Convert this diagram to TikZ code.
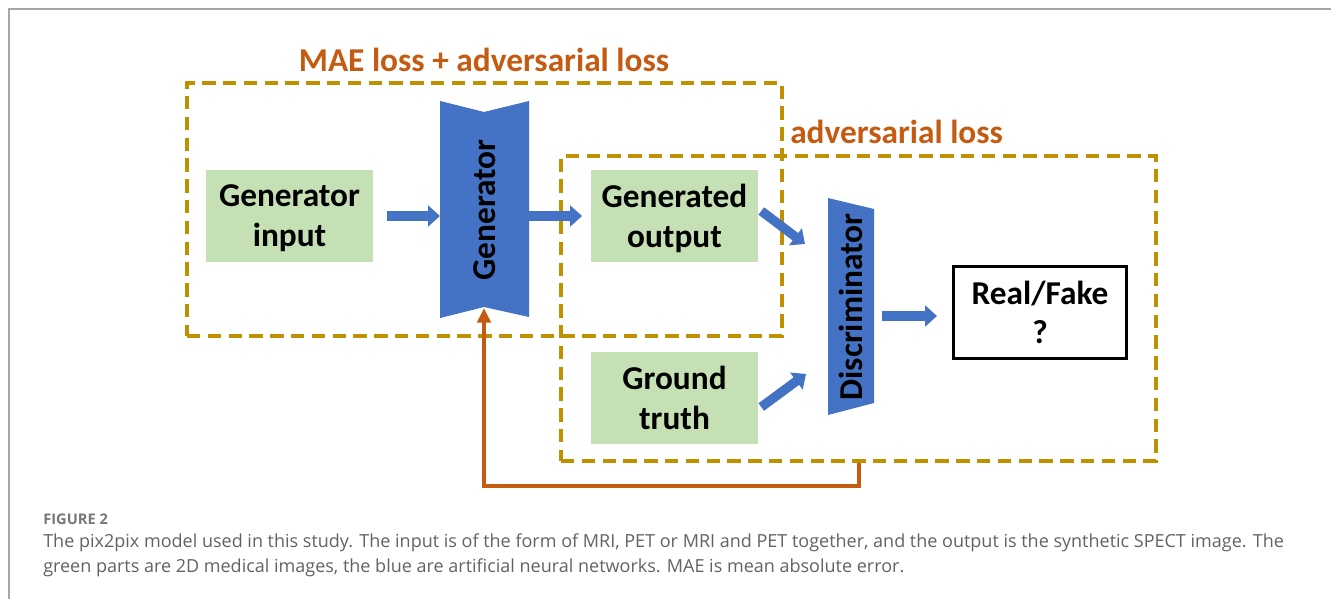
\documentclass[tikz,border=0pt]{standalone}
\usepackage{fontspec}
\setmainfont{Carlito}
\newfontfamily\capfont{Open Sans}
\usetikzlibrary{arrows.meta,calc}

\definecolor{lossgold}{HTML}{BF9000}
\definecolor{lossorange}{HTML}{C55A11}
\definecolor{netblue}{HTML}{4472C4}
\definecolor{imggreen}{HTML}{C5E0B4}
\definecolor{framegrey}{HTML}{A6A6A6}
\definecolor{capgrey}{HTML}{626262}
\definecolor{fignogrey}{HTML}{777777}

\begin{document}
\begin{tikzpicture}[x=0.75pt,y=-0.75pt,
  bigfont/.style={font=\bfseries\fontsize{25}{30}\selectfont},
  lossbox/.style={draw=lossgold, line width=3pt, dash pattern=on 10pt off 5.6pt,
    inner sep=0pt, fill=none},
  losslabel/.style={bigfont, text=lossorange, inner sep=0pt},
  imgbox/.style={bigfont, fill=imggreen, minimum width=125.25pt, minimum height=69pt,
    align=center, inner sep=0pt, text depth=0pt},
  netbody/.style={fill=netblue},
  netlabel/.style={bigfont, rotate=90, inner sep=0pt},
  resultbox/.style={font=\bfseries\fontsize{25}{29}\selectfont, draw=black, line width=2.4pt,
    fill=white, minimum width=130pt, minimum height=69pt, align=center, inner sep=0pt,
    text depth=-3pt},
  flow/.style={draw=netblue, line width=7pt, -{Triangle[length=9pt,width=15.5pt]}},
  feedback/.style={draw=lossorange, line width=3pt, -{Triangle[length=11pt,width=10pt]}},
  capfig/.style={font=\capfont\bfseries\fontsize{11}{13}\selectfont, text=fignogrey,
    inner sep=0pt, anchor=base west},
  captext/.style={font=\capfont\fontsize{13.5}{16}\selectfont, text=capgrey,
    inner sep=0pt, anchor=base west}
]
\useasboundingbox (0,0) rectangle (1331,599);

% page frame
\draw[framegrey, line width=1.1pt] (9,599) -- (9,9) -- (1331,9);

% loss regions
\node[lossbox, minimum width=446.25pt, minimum height=189.75pt] (maeb) at (484.5,209.5) {};
\node[lossbox, minimum width=446.25pt, minimum height=228.75pt] (advb) at (858.5,308.5) {};
\node[losslabel, anchor=base] (maelbl) at (484,72) {MAE loss + adversarial loss};
\node[losslabel, anchor=base west] (advlbl) at (790,144) {adversarial loss};

% images
\node[imgbox] (gin) at (289.5,216) {Generator\\input};
\node[imgbox] (gout) at (674.5,216) {Generated\\output};
\node[imgbox] (gt) at (674.5,398) {Ground\\truth};

% generator
\fill[netbody] (440,101) -- (484,112) -- (529,101) -- (529,317) -- (484,307) -- (440,318) -- cycle;
\node[netlabel] (gen) at (485,210) {Generator};
\coordinate (gen-in) at (440,216);
\coordinate (gen-out) at (529,216);
\coordinate (gen-foot) at (484,308);

% discriminator
\fill[netbody] (828,198) -- (874,209) -- (874,403) -- (828,415) -- cycle;
\node[netlabel] (disc) at (851,307) {Discriminator};
\coordinate (disc-out) at (874,316);
\coordinate (disc-in-a) at (805,244);
\coordinate (disc-in-b) at (806,374);

% decision
\node[resultbox] (rf) at (1040,312.5) {Real/Fake\\?};

% data flow
\draw[flow, shorten <=10.5pt] (gin.east |- gen-in) -- (gen-in);
\draw[flow, shorten >=6.5pt] (gen-out) -- (gout.west);
\draw[flow] ($(gout.east)+(3,-5)$) -- (disc-in-a);
\draw[flow] ($(gt.east)+(3,9)$) -- (disc-in-b);
\draw[flow, shorten <=6pt, shorten >=11pt] (disc-out) -- (rf.west |- disc-out);

% loss fed back to the generator
\draw[feedback] (advb.south) -- ++(0,23) -| (gen-foot);

% caption
\node[capfig] (figno) at (43,524) {FIGURE 2};
\node[captext] (cap1) at (43,547) {The pix2pix model used in this study. The input is of the form of MRI, PET or MRI and PET together, and the output is the synthetic SPECT image. The};
\node[captext] (cap2) at (43,572) {green parts are 2D medical images, the blue are artificial neural networks. MAE is mean absolute error.};
\end{tikzpicture}
\end{document}
